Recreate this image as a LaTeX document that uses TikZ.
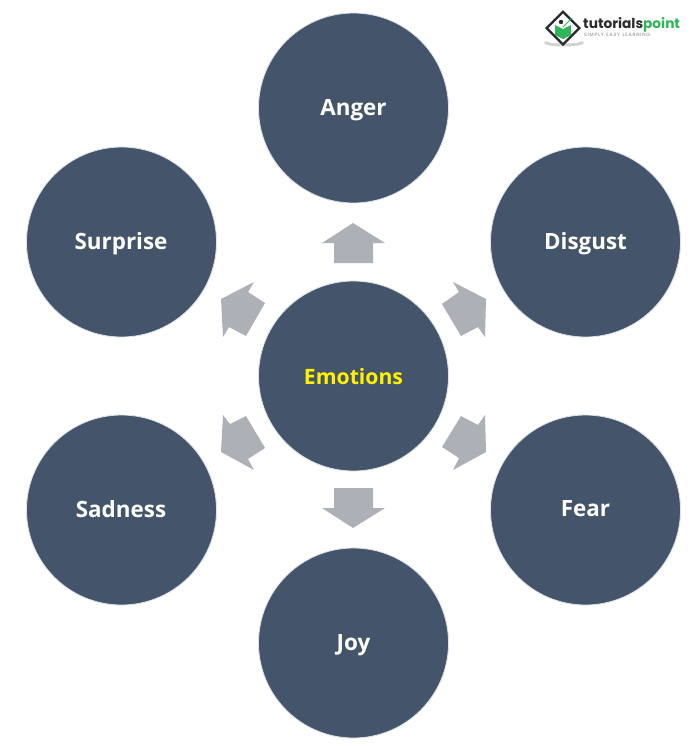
\documentclass[tikz,border=0pt]{standalone}
\usepackage{fontspec}
\setmainfont{Open Sans}
\newfontfamily\logofont{Poppins}
\definecolor{slateblue}{HTML}{44546A}
\definecolor{ringc}{HTML}{DDE2EC}
\definecolor{arrowc}{HTML}{AEB0B8}
\definecolor{logogreen}{HTML}{2FB457}
\definecolor{logodark}{HTML}{2B2B2B}
\tikzset{
  emo/.style={circle,fill=slateblue,draw=ringc,line width=0.8pt,minimum size=190pt,inner sep=0pt},
  lab/.style={font=\fontsize{22.4pt}{25pt}\selectfont\bfseries,text=white},
  arr/.style={fill=arrowc,draw=none}
}
\begin{document}
\begin{tikzpicture}[x=1pt,y=-1pt]
\useasboundingbox (0,0) rectangle (700,748);
\fill[white] (0,0) rectangle (700,748);
\node[emo] (anger) at (353.5,108) {};
\node[emo] (surprise) at (121.5,242) {};
\node[emo] (disgust) at (585.5,242) {};
\node[emo] (center) at (353.5,376) {};
\node[emo] (sadness) at (121.5,510) {};
\node[emo] (fear) at (585.5,510) {};
\node[emo] (joy) at (353.5,643) {};
\node[lab] (l1) at (353.5,110) {Anger};
\node[lab] (l2) at (121,244) {Surprise};
\node[lab] (l3) at (585.5,244) {Disgust};
\node[lab,font=\fontsize{21.2pt}{24pt}\selectfont\bfseries,text=yellow] (l4) at (353.5,377) {Emotions};
\node[lab] (l5) at (121,509) {Sadness};
\node[lab] (l6) at (585.5,509) {Fear};
\node[lab] (l7) at (353.5,645) {Joy};
% block arrows
\fill[arr] (353,223) -- (385,243) -- (373,243) -- (373,263) -- (334,263) -- (334,243) -- (322,243) -- cycle;
\fill[arr] (353,528) -- (385,508) -- (373,508) -- (373,488) -- (334,488) -- (334,508) -- (322,508) -- cycle;
\fill[arr] (453,282) -- (486,299) -- (485,337) -- (478,327) -- (461,336) -- (442,304) -- (459,292) -- cycle;
\fill[arr] (254,282) -- (221,299) -- (223,337) -- (229,327) -- (246,336) -- (265,303) -- (248,292) -- cycle;
\fill[arr] (485,415) -- (478,425) -- (461,416) -- (442,447) -- (459,458) -- (453,470) -- (486,452) -- cycle;
\fill[arr] (223,415) -- (230,424) -- (246,416) -- (265,448) -- (248,459) -- (254,470) -- (221,452) -- cycle;
% logo
\fill[gray!35] (564,43) ellipse (20pt and 3.5pt);
\fill[white] (564,41) ellipse (17pt and 2.5pt);
\fill[logodark] (563,10) -- (581,28) -- (563,46) -- (545,28) -- cycle;
\fill[white] (563,13.5) -- (577.5,28) -- (563,42.5) -- (548.5,28) -- cycle;
\fill[logogreen] (555,25) -- (563,29) -- (571,25) -- (571,35) -- (563,39) -- (555,35) -- cycle;
\fill[logodark] (561,22) circle (2.2pt);
\draw[logogreen,line width=1pt] (563,27) -- (572,18);
\node[inner sep=0pt,anchor=west,font=\logofont\fontsize{13.7pt}{14pt}\selectfont\bfseries,text=logodark] (logo) at (583,25) {tutorials\textcolor{logogreen}{point}};
\node[inner sep=0pt,anchor=west,font=\logofont\fontsize{4.7pt}{6pt}\selectfont,text=gray] (tag) at (584,34.5) {S\,I\,M\,P\,L\,Y\, \,E\,A\,S\,Y\, \,L\,E\,A\,R\,N\,I\,N\,G};
\end{tikzpicture}
\end{document}
